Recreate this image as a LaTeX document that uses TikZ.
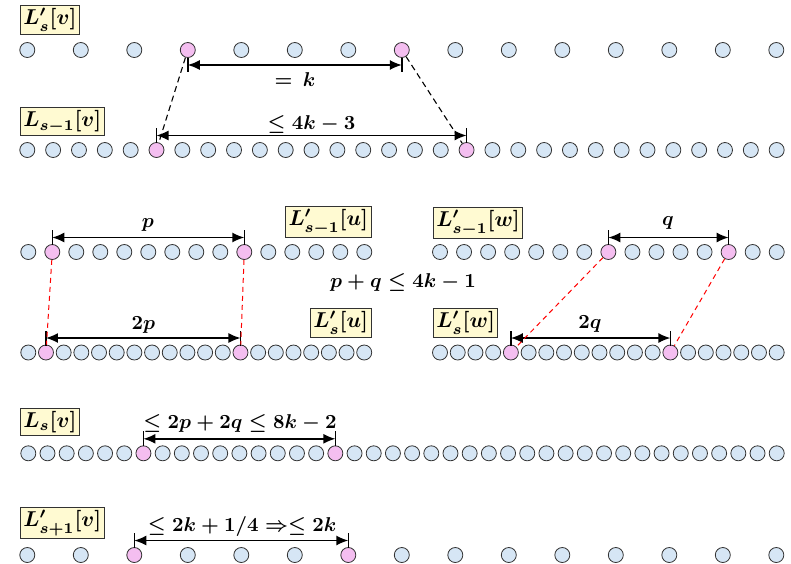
\documentclass[tikz,border=0pt]{standalone}
\usepackage{graphicx}
\usetikzlibrary{arrows.meta,calc}
\definecolor{dotblue}{RGB}{214,230,245}
\definecolor{dotpink}{RGB}{244,190,240}
\definecolor{lblyellow}{RGB}{255,250,210}
\definecolor{edge}{RGB}{50,50,50}
\newcommand\dotrow[7]{%
  \foreach \i in {0,...,#2} {%
    \pgfmathsetmacro\xx{#3+\i*#4}%
    \pgfmathtruncatemacro\isp{(\i==#6)||(\i==#7)}%
    \ifnum\isp=1 \node[pk] (#1-\i) at (\xx,#5) {};%
    \else \node[dot] (#1-\i) at (\xx,#5) {};\fi
  }}
\newcommand\lbtxt[1]{\scalebox{2.15}{\boldmath$#1$}}
\newcommand\antxt[1]{\scalebox{2.0}{\boldmath$#1$}}
\begin{document}
\begin{tikzpicture}[x=1pt,y=-1pt,
  dot/.style={circle,draw=edge,fill=dotblue,minimum size=15pt,inner sep=0pt,line width=0.8pt},
  pk/.style={dot,fill=dotpink},
  lbl/.style={draw=edge,fill=lblyellow,inner sep=3pt,line width=0.8pt},
  ann/.style={inner sep=1pt},
  dim/.style={line width=1.4pt,{Latex[length=12pt,width=10pt]}-{Latex[length=12pt,width=10pt]}},
  tk/.style={line width=1.4pt},
  bdash/.style={line width=1.1pt,dash pattern=on 6pt off 4pt},
  rdash/.style={line width=1pt,red,dash pattern=on 5pt off 4pt}]
\useasboundingbox (0,0) rectangle (791,563);
% rows of dots
\dotrow{r1}{14}{27.3}{53.5}{50}{3}{7}
\dotrow{r2}{29}{27.3}{25.84}{150}{5}{17}
\dotrow{r3}{14}{28.3}{24.0}{252}{1}{9}
\dotrow{r4}{19}{28.3}{17.68}{352.5}{1}{12}
\dotrow{r5}{14}{440}{24.05}{252}{7}{12}
\dotrow{r6}{19}{440}{17.72}{352.5}{4}{13}
\dotrow{r7}{39}{28.3}{19.19}{453.3}{6}{16}
\dotrow{r8}{14}{27.3}{53.5}{555}{2}{6}
% labels
\node[lbl,anchor=west] (l1) at (20,20) {\lbtxt{L'_s[v]}};
\node[lbl,anchor=west] (l2) at (20,121.7) {\lbtxt{L_{s-1}[v]}};
\node[lbl,anchor=east] (l3) at (371.5,222) {\lbtxt{L'_{s-1}[u]}};
\node[lbl,anchor=east] (l4) at (371.5,323) {\lbtxt{L'_s[u]}};
\node[lbl,anchor=west] (l5) at (433,223) {\lbtxt{L'_{s-1}[w]}};
\node[lbl,anchor=west] (l6) at (433,323) {\lbtxt{L'_s[w]}};
\node[lbl,anchor=west] (l7) at (20,422) {\lbtxt{L_s[v]}};
\node[lbl,anchor=west] (l8) at (20,523) {\lbtxt{L'_{s+1}[v]}};
% row 1 ticks (below)
\foreach \n in {r1-3,r1-7}{
  \draw[tk] ($(\n)+(0,8)$) -- ($(\n)+(0,22)$);
  \coordinate (\n-d) at ($(\n)+(0,15)$);}
% other rows (above)
\foreach \n in {r2-5,r2-17,r3-1,r3-9,r4-1,r4-12,r5-7,r5-12,r6-4,r6-13,r7-6,r7-16,r8-2,r8-6}{
  \draw[tk] ($(\n)+(0,-7)$) -- ($(\n)+(0,-22)$);
  \coordinate (\n-d) at ($(\n)+(0,-14.5)$);}
\draw[dim] (r1-3-d) -- (r1-7-d);
\draw[dim] (r2-5-d) -- (r2-17-d);
\draw[dim] (r3-1-d) -- (r3-9-d);
\draw[dim] (r4-1-d) -- (r4-12-d);
\draw[dim] (r5-7-d) -- (r5-12-d);
\draw[dim] (r6-4-d) -- (r6-13-d);
\draw[dim] (r7-6-d) -- (r7-16-d);
\draw[dim] (r8-2-d) -- (r8-6-d);
% dashed connections
\draw[bdash] (r1-3) -- (r2-5);
\draw[bdash] (r1-7) -- (r2-17);
\draw[rdash] (r3-1) -- (r4-1);
\draw[rdash] (r3-9) -- (r4-12);
\draw[rdash] (r5-7) -- (r6-4);
\draw[rdash] (r5-12) -- (r6-13);
% annotations
\node[ann] (t1) at (295,80) {\antxt{=\,k}};
\node[ann] (t2) at (311.5,124) {\antxt{\leq 4k - 3}};
\node[ann] (t3) at (148,225) {\antxt{p}};
\node[ann] (t4) at (143.5,325) {\antxt{2p}};
\node[ann] (t5) at (668,223) {\antxt{q}};
\node[ann] (t6) at (590,324) {\antxt{2q}};
\node[ann] (t7) at (403,282) {\antxt{p + q \leq 4k - 1}};
\node[ann] (t8) at (240,423) {\antxt{\leq 2p + 2q \leq 8k - 2}};
\node[ann] (t9) at (242,526.5) {\antxt{\leq 2k + 1/4 \Rightarrow\leq 2k}};
\end{tikzpicture}
\end{document}
